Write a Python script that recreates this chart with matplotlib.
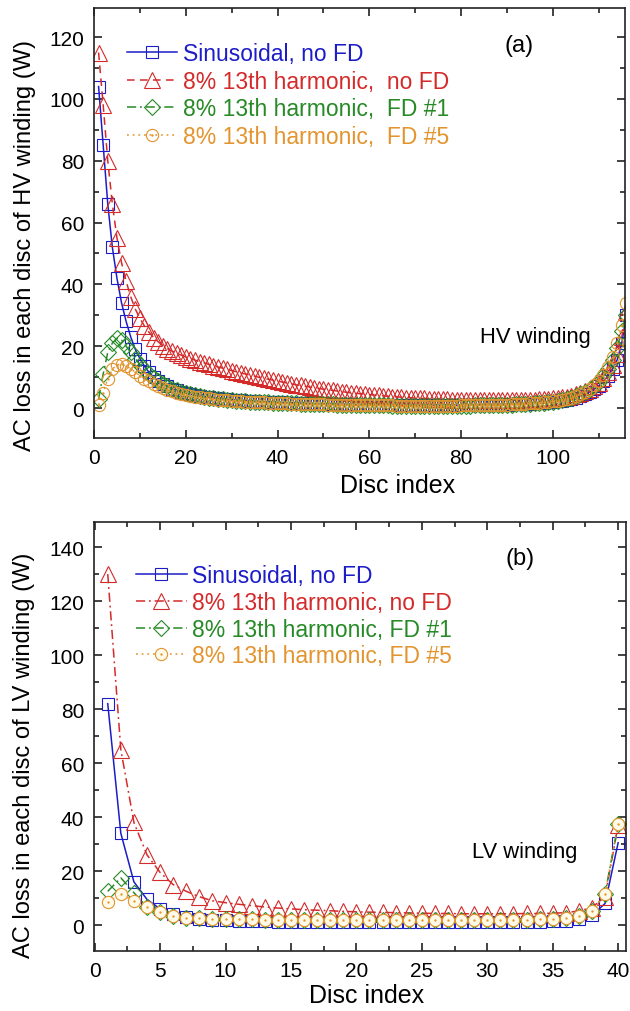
import numpy as np
import matplotlib
matplotlib.use("Agg")
import matplotlib.pyplot as plt
from matplotlib.path import Path
from matplotlib.ticker import MultipleLocator

plt.rcParams['font.family'] = ['Liberation Sans', 'DejaVu Sans']

# ---------------- data: HV winding (116 discs) ----------------
hv_disc = np.arange(1, 117)

hv_sin = [104, 85, 66, 52, 42, 34, 28, 23, 19, 16,
          13.5, 11.5, 10, 8.8, 7.8, 7.0, 6.3, 5.7, 5.2, 4.8,
          4.5, 4.2, 3.9, 3.7, 3.5, 3.3, 3.1, 3.0, 2.8, 2.7,
          2.6, 2.5, 2.4, 2.3, 2.2, 2.1, 2.0, 2.0, 1.9, 1.8,
          1.8, 1.7, 1.7, 1.6, 1.6, 1.5, 1.5, 1.4, 1.4, 1.4,
          1.3, 1.3, 1.3, 1.2, 1.2, 1.2, 1.1, 1.1, 1.1, 1.1,
          1.0, 1.0, 1.0, 1.0, 1.0, 0.9, 0.9, 0.9, 0.9, 0.9,
          0.9, 0.9, 0.9, 0.9, 0.9, 0.9, 0.9, 0.9, 0.9, 0.9,
          0.9, 0.9, 1.0, 1.0, 1.0, 1.0, 1.0, 1.1, 1.1, 1.1,
          1.2, 1.2, 1.3, 1.3, 1.4, 1.5, 1.6, 1.7, 1.8, 2.0,
          2.2, 2.4, 2.7, 3.0, 3.4, 3.9, 4.5, 5.2, 6.1, 7.2,
          8.6, 10.4, 12.7, 15.6, 21, 30]

hv_h13 = [115, 98, 80, 66, 55, 47, 41, 36, 32, 29,
          26.5, 24.5, 22.8, 21.4, 20.2, 19.2, 18.4, 17.7, 17.1, 16.5,
          16.0, 15.5, 15.0, 14.6, 14.1, 13.7, 13.3, 12.9, 12.5, 12.1,
          11.7, 11.3, 11.0, 10.6, 10.3, 9.9, 9.6, 9.3, 9.0, 8.7,
          8.4, 8.1, 7.8, 7.5, 7.3, 7.0, 6.8, 6.5, 6.3, 6.1,
          5.9, 5.7, 5.5, 5.3, 5.1, 4.9, 4.8, 4.6, 4.5, 4.3,
          4.2, 4.1, 3.9, 3.8, 3.7, 3.6, 3.5, 3.4, 3.3, 3.2,
          3.1, 3.1, 3.0, 2.9, 2.9, 2.8, 2.8, 2.7, 2.7, 2.6,
          2.6, 2.6, 2.5, 2.5, 2.5, 2.5, 2.5, 2.5, 2.5, 2.5,
          2.5, 2.5, 2.6, 2.6, 2.7, 2.7, 2.8, 2.9, 3.0, 3.1,
          3.3, 3.5, 3.7, 4.0, 4.4, 4.8, 5.4, 6.1, 7.0, 8.1,
          9.6, 11.5, 14.0, 17.5, 23, 31]

hv_fd1 = [3, 11, 18, 21, 22.5, 22, 20, 18, 16, 14,
          12.5, 11, 9.8, 8.7, 7.8, 7.0, 6.3, 5.7, 5.2, 4.8,
          4.4, 4.1, 3.8, 3.5, 3.3, 3.1, 2.9, 2.8, 2.6, 2.5,
          2.4, 2.3, 2.2, 2.1, 2.0, 1.9, 1.9, 1.8, 1.7, 1.7,
          1.6, 1.6, 1.5, 1.5, 1.4, 1.4, 1.3, 1.3, 1.3, 1.2,
          1.2, 1.2, 1.1, 1.1, 1.1, 1.0, 1.0, 1.0, 1.0, 0.9,
          0.9, 0.9, 0.9, 0.9, 0.8, 0.8, 0.8, 0.8, 0.8, 0.8,
          0.8, 0.8, 0.8, 0.8, 0.8, 0.8, 0.8, 0.8, 0.8, 0.8,
          0.8, 0.8, 0.9, 0.9, 0.9, 0.9, 1.0, 1.0, 1.0, 1.1,
          1.1, 1.2, 1.2, 1.3, 1.4, 1.5, 1.6, 1.7, 1.9, 2.1,
          2.3, 2.6, 2.9, 3.3, 3.8, 4.4, 5.1, 6.0, 7.1, 8.5,
          10.3, 12.6, 15.5, 19.5, 25, 30]

hv_fd5 = [1, 5, 9.5, 12.5, 14, 14.2, 13.6, 12.7, 11.6, 10.5,
          9.5, 8.6, 7.8, 7.1, 6.5, 5.9, 5.4, 5.0, 4.6, 4.3,
          4.0, 3.7, 3.5, 3.3, 3.1, 2.9, 2.7, 2.6, 2.5, 2.4,
          2.3, 2.2, 2.1, 2.0, 1.9, 1.8, 1.8, 1.7, 1.6, 1.6,
          1.5, 1.5, 1.4, 1.4, 1.4, 1.3, 1.3, 1.2, 1.2, 1.2,
          1.1, 1.1, 1.1, 1.1, 1.0, 1.0, 1.0, 1.0, 0.9, 0.9,
          0.9, 0.9, 0.9, 0.9, 0.9, 0.8, 0.8, 0.8, 0.8, 0.8,
          0.8, 0.8, 0.8, 0.8, 0.8, 0.8, 0.8, 0.8, 0.8, 0.9,
          0.9, 0.9, 0.9, 0.9, 0.9, 1.0, 1.0, 1.0, 1.1, 1.1,
          1.2, 1.2, 1.3, 1.4, 1.5, 1.6, 1.7, 1.8, 2.0, 2.2,
          2.4, 2.7, 3.0, 3.4, 3.9, 4.5, 5.3, 6.2, 7.4, 8.9,
          10.8, 13.3, 16.6, 21, 27, 34]

# ---------------- data: LV winding (40 discs) ----------------
lv_disc = np.arange(1, 41)

lv_sin = [82, 34, 16, 9.5, 6.0, 4.0, 3.0, 2.4, 2.0, 1.8,
          1.6, 1.5, 1.4, 1.3, 1.3, 1.2, 1.2, 1.2, 1.1, 1.1,
          1.1, 1.1, 1.1, 1.1, 1.1, 1.1, 1.1, 1.1, 1.1, 1.1,
          1.1, 1.2, 1.2, 1.3, 1.4, 1.6, 2.1, 3.6, 8.0, 30.5]

lv_h13 = [130, 65, 38, 26, 19.5, 15, 12.5, 10.5, 9.0, 8.3,
          7.7, 7.2, 6.7, 6.3, 6.0, 5.7, 5.5, 5.3, 5.1, 4.9,
          4.8, 4.7, 4.6, 4.5, 4.4, 4.3, 4.3, 4.2, 4.2, 4.2,
          4.2, 4.2, 4.3, 4.3, 4.4, 4.6, 5.2, 6.5, 10.5, 37]

lv_fd1 = [12.5, 17.5, 12, 6.7, 4.8, 3.4, 2.8, 2.5, 2.3, 2.2,
          2.1, 2.1, 2.0, 2.0, 2.0, 2.0, 2.0, 2.0, 2.0, 2.0,
          2.0, 2.0, 2.0, 2.0, 2.0, 2.0, 2.0, 2.0, 2.0, 2.0,
          2.0, 2.0, 2.0, 2.1, 2.2, 2.5, 3.3, 5.2, 11.5, 37.5]

lv_fd5 = [8.5, 11.5, 9.0, 6.7, 4.8, 3.4, 2.8, 2.5, 2.3, 2.2,
          2.1, 2.1, 2.0, 2.0, 2.0, 2.0, 2.0, 2.0, 2.0, 2.0,
          2.0, 2.0, 2.0, 2.0, 2.0, 2.0, 2.0, 2.0, 2.0, 2.0,
          2.0, 2.0, 2.0, 2.1, 2.2, 2.5, 3.3, 5.2, 11.5, 37.5]

hv_labels = ["Sinusoidal, no FD", "8% 13th harmonic,  no FD",
             "8% 13th harmonic,  FD #1", "8% 13th harmonic,  FD #5"]
lv_labels = ["Sinusoidal, no FD", "8% 13th harmonic, no FD",
             "8% 13th harmonic, FD #1", "8% 13th harmonic, FD #5"]

# ---------------- styling ----------------
BLUE = '#1c1cc8'
RED = '#d42a2a'
GREEN = '#268a26'
ORANGE = '#e3942f'

# circle with a centre dot
dot_circle = Path.make_compound_path(Path.unit_circle(),
                                     Path.circle((0, 0), 0.1))

def series_styles(red_ls):
    return [
        dict(color=BLUE, ls='-', marker='s', ms=8.4),
        dict(color=RED, ls=red_ls, marker='^', ms=11.5),
        dict(color=GREEN, ls=(0, (6, 2.5, 1.2, 2.5)), marker='D', ms=8.0),
        dict(color=ORANGE, ls=(0, (1.2, 2.5)), marker=dot_circle, ms=8.8),
    ]

fig = plt.figure(figsize=(6.30, 10.12), dpi=100)
ax1 = fig.add_axes([94/630, 1-439/1012, 531/630, 430/1012])
ax2 = fig.add_axes([94/630, 1-952/1012, 532/630, 429/1012])

def draw_panel(ax, x, ys, labels, styles, faces):
    handles = []
    for y, lab, st, fc in zip(ys, labels, styles, faces):
        h, = ax.plot(x, y, color=st['color'], ls=st['ls'], lw=1.1,
                     marker=st['marker'], ms=st['ms'], mfc=fc,
                     mec=st['color'], mew=0.8, label=lab)
        handles.append(h)
    return handles

h1 = draw_panel(ax1, hv_disc, [hv_sin, hv_h13, hv_fd1, hv_fd5], hv_labels,
                series_styles((0, (5, 3.5))), ['none'] * 4)
h2 = draw_panel(ax2, lv_disc, [lv_sin, lv_h13, lv_fd1, lv_fd5], lv_labels,
                series_styles((0, (6, 2.5, 1.2, 2.5))),
                ['none', 'none', 'none', '#fffbe8'])

ax1.set_xlim(0, 115.7)
ax1.set_ylim(-9.7, 129.4)
ax1.xaxis.set_major_locator(MultipleLocator(20))
ax1.xaxis.set_minor_locator(MultipleLocator(10))
ax1.yaxis.set_major_locator(MultipleLocator(20))
ax1.yaxis.set_minor_locator(MultipleLocator(10))

ax2.set_xlim(-0.05, 40.6)
ax2.set_ylim(-9.6, 149.3)
ax2.xaxis.set_major_locator(MultipleLocator(5))
ax2.xaxis.set_minor_locator(MultipleLocator(2.5))
ax2.yaxis.set_major_locator(MultipleLocator(20))
ax2.yaxis.set_minor_locator(MultipleLocator(10))

panels = [
    (ax1, 'HV', '(a)', h1, (0.045, 0.942), 0.20, (0.571, -0.081), -0.110, 0.449),
    (ax2, 'LV', '(b)', h2, (0.062, 0.923), 0.16, (0.513, -0.075), -0.110, 0.459),
]
for ax, wind, tag, handles, leg_anchor, lspace, xl_pos, yl_x, yl_y in panels:
    for sp in ax.spines.values():
        sp.set_linewidth(1.2)
        sp.set_color('#222222')
    ax.tick_params(which='both', direction='in', top=True, right=True,
                   width=1.2, labelsize=15, pad=7, color='#222222')
    ax.tick_params(which='major', length=6)
    ax.tick_params(which='minor', length=3.5)
    ax.set_xlabel('Disc index', fontsize=18)
    ax.xaxis.set_label_coords(*xl_pos)
    ax.set_ylabel(f'AC loss in each disc of {wind} winding (W)', fontsize=17)
    ax.yaxis.set_label_coords(yl_x, yl_y)
    ax.text(0.80, 0.915, tag, transform=ax.transAxes, fontsize=17,
            ha='center', va='center')
    leg = ax.legend(handles=handles, loc='upper left',
                    bbox_to_anchor=leg_anchor, frameon=False,
                    fontsize=16.5, handlelength=2.2, handletextpad=0.25,
                    labelspacing=lspace, borderaxespad=0)
    for txt, h in zip(leg.get_texts(), handles):
        txt.set_color(h.get_color())

ax1.text(0.832, 0.237, 'HV winding', transform=ax1.transAxes,
         fontsize=15.8, ha='center', va='center')
ax2.text(0.81, 0.233, 'LV winding', transform=ax2.transAxes,
         fontsize=15.8, ha='center', va='center')

fig.savefig('out.png', dpi=100)
